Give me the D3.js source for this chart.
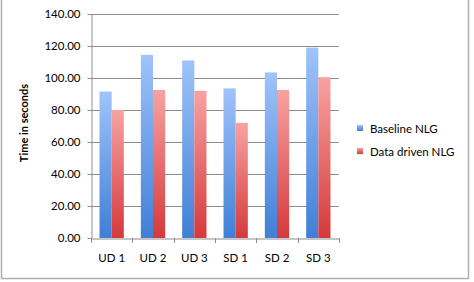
<!DOCTYPE html>
<html><head><meta charset="utf-8">
<script src="https://cdn.jsdelivr.net/npm/d3@7"></script>
<style>body{margin:0;background:#fff}svg{display:block}text{font-family:Lato,"Open Sans",sans-serif}</style>
</head><body><svg id="c" width="474" height="282"></svg>
<script>
const categories = ["UD 1","UD 2","UD 3","SD 1","SD 2","SD 3"];
const seriesNames = ["Baseline NLG","Data driven NLG"];
const baseline = [91.5,114.5,111.0,93.5,103.5,119.0];
const dataDriven = [80.0,92.5,92.0,72.0,92.5,100.5];
const yTicks = [0,20,40,60,80,100,120,140];

const svg = d3.select("#c");
const m = {l:91,r:135,t:14,b:44};
const W = 474, H = 282;
const defs = svg.append("defs");
const grads = [["gB","#a0c3fa","#3f7fd6"],["gR","#f7a3a1","#d5393b"]];
grads.forEach(([id,c1,c2])=>{
  const g = defs.append("linearGradient").attr("id",id).attr("x1",0).attr("y1",0).attr("x2",0).attr("y2",1);
  g.append("stop").attr("offset","0%").attr("stop-color",c1);
  g.append("stop").attr("offset","100%").attr("stop-color",c2);
});
svg.append("rect").attr("x",1.5).attr("y",-2).attr("width",467).attr("height",280.5)
  .attr("fill","#fff").attr("stroke","#b0b0b0").attr("stroke-width",1.5);

const x = d3.scaleBand().domain(categories).range([m.l, W-m.r]);
const y = d3.scaleLinear().domain([0,140]).range([H-m.b, m.t]);
const xs = d3.scaleBand().domain(seriesNames).range([0, x.bandwidth()]).paddingInner(0).paddingOuter(0.7);

svg.append("g").selectAll("line").data(yTicks.filter(d=>d>0)).join("line")
  .attr("x1",m.l).attr("x2",W-m.r).attr("y1",d=>Math.round(y(d))+0.5).attr("y2",d=>Math.round(y(d))+0.5)
  .attr("stroke","#8c8c8c").attr("stroke-width",1);

const yAxis = svg.append("g").attr("transform",`translate(${m.l+0.5},0)`)
  .call(d3.axisLeft(y).tickValues(yTicks).tickFormat(d3.format(".2f")).tickSize(4).tickSizeOuter(0));
yAxis.select(".domain").attr("stroke","#8c8c8c");
yAxis.selectAll(".tick line").attr("stroke","#8c8c8c");
yAxis.selectAll("text").attr("font-size",11.5).attr("fill","#000").attr("x",-11);

const series = [baseline, dataDriven];
const fills = ["url(#gB)","url(#gR)"];
series.forEach((vals,i)=>{
  svg.append("g").selectAll("rect").data(vals).join("rect")
    .attr("x",(d,j)=>x(categories[j])+xs(seriesNames[i]))
    .attr("width",xs.bandwidth())
    .attr("y",d=>y(d)).attr("height",d=>y(0)-y(d))
    .attr("fill",fills[i]);
});

const xAxis = svg.append("g").attr("transform",`translate(0,${Math.round(y(0))+0.5})`)
  .call(d3.axisBottom(x).tickSize(0));
xAxis.select(".domain").attr("stroke","#8c8c8c");
xAxis.selectAll(".tick text").attr("font-size",11.5).attr("fill","#000").attr("dy","1.75em");
const tickPos = categories.map(c=>x(c)).concat([W-m.r]);
svg.append("g").selectAll("line").data(tickPos).join("line")
  .attr("x1",d=>Math.round(d)+0.5).attr("x2",d=>Math.round(d)+0.5)
  .attr("y1",Math.round(y(0))).attr("y2",Math.round(y(0))+5).attr("stroke","#8c8c8c");

svg.append("text").attr("transform",`translate(28,123) rotate(-90)`)
  .attr("text-anchor","middle").attr("font-size",11).attr("font-weight","bold").text("Time in seconds");

const leg = svg.append("g").selectAll("g").data(seriesNames).join("g")
  .attr("transform",(d,i)=>`translate(357,${129+i*23})`);
leg.append("rect").attr("x",0).attr("y",-4).attr("width",6).attr("height",6).attr("fill",(d,i)=>fills[i]);
leg.append("text").attr("x",13).attr("y",3.5).attr("font-size",11.5).text(d=>d);
</script></body></html>
